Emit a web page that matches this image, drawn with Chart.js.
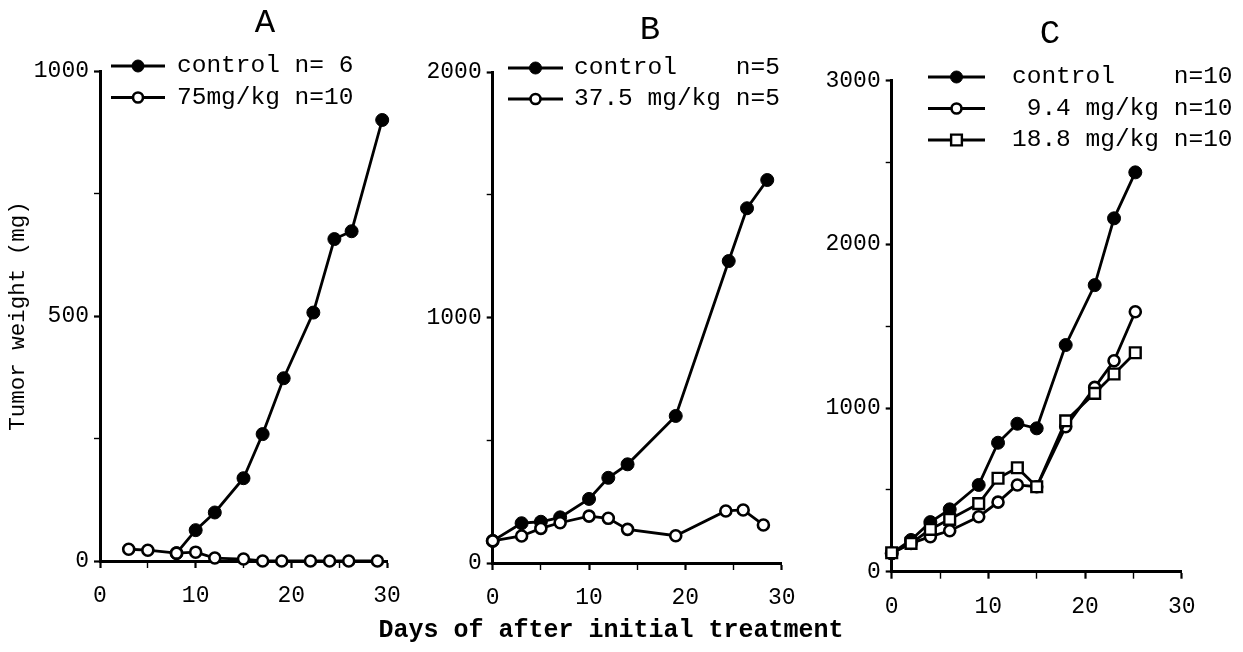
<!DOCTYPE html>
<html><head><meta charset="utf-8">
<script src="https://cdn.jsdelivr.net/npm/chart.js@4"></script>
<style>
html,body{margin:0;padding:0;background:#fff;width:1243px;height:652px;overflow:hidden;position:relative;font-family:'Liberation Mono','DejaVu Sans Mono',monospace;color:#000}
canvas{position:absolute;top:0}
.t{position:absolute;transform:translate(-50%,-50%);white-space:pre;line-height:1}
</style></head><body>
<canvas id="cA" width="415" height="620" style="left:0px"></canvas>
<canvas id="cB" width="400" height="620" style="left:415px"></canvas>
<canvas id="cC" width="428" height="620" style="left:815px"></canvas>
<div class="t" style="left:265px;top:23px;font-size:34px">A</div>
<div class="t" style="left:650px;top:30px;font-size:34px">B</div>
<div class="t" style="left:1050px;top:34px;font-size:34px">C</div>
<div class="t" style="left:611px;top:630px;font-size:25px;font-weight:bold">Days of after initial treatment</div>
<script>
// ---- data ----
const A_ctrl_day = [8, 10, 12, 15, 17, 19.2, 22.3, 24.5, 26.3, 29.5];
const A_ctrl_wt  = [16, 63, 99, 169, 259, 373, 507, 657, 673, 900];
const A_75_day   = [3, 5, 8, 10, 12, 15, 17, 19, 22, 24, 26, 29];
const A_75_wt    = [24, 22, 16, 18, 6, 4, 0, 0, 0, 0, 0, 0];

const B_ctrl_day = [0, 3, 5, 7, 10, 12, 14, 19, 24.5, 26.4, 28.5];
const B_ctrl_wt  = [90, 162, 168, 186, 261, 347, 402, 599, 1230, 1445, 1560];
const B_375_day  = [0, 3, 5, 7, 10, 12, 14, 19, 24.2, 26, 28.1];
const B_375_wt   = [90, 110, 141, 164, 191, 182, 137, 111, 212, 216, 155];

const C_day      = [0, 2, 4, 6, 9, 11, 13, 15, 18, 21, 23, 25.2];
const C_ctrl_wt  = [112, 194, 303, 381, 530, 788, 904, 876, 1385, 1751, 2159, 2440];
const C_94_wt    = [112, 173, 214, 250, 336, 425, 530, 519, 886, 1126, 1289, 1588];
const C_188_wt   = [116, 173, 259, 320, 416, 571, 635, 519, 922, 1090, 1208, 1338];

const A_labels = ['control n= 6', '75mg/kg n=10'];
const B_labels = ['control    n=5', '37.5 mg/kg n=5'];
const C_labels = ['control    n=10', ' 9.4 mg/kg n=10', '18.8 mg/kg n=10'];

const X_tick_labels = [0, 10, 20, 30];
const A_y_tick_labels = [0, 500, 1000];
const B_y_tick_labels = [0, 1000, 2000];
const C_y_tick_labels = [0, 1000, 2000, 3000];

// ---- helpers ----
const FAM = "'Liberation Mono', 'DejaVu Sans Mono', monospace";
const pts = (xs, ys) => xs.map((x, i) => ({x: x, y: ys[i]}));

function ds(label, data, kind, order) {
  const base = {label, data, borderColor: '#000', borderWidth: 2.8, tension: 0,
    pointBorderColor: '#000', clip: false, order};
  if (kind === 'filled') Object.assign(base, {pointStyle: 'circle', pointRadius: 6.5, pointHoverRadius: 6.5,
    pointBackgroundColor: '#000', pointBorderWidth: 1, legendR: 6});
  if (kind === 'open') Object.assign(base, {pointStyle: 'circle', pointRadius: 5.5, pointHoverRadius: 5.5,
    pointBackgroundColor: '#fff', pointBorderWidth: 2.6, legendR: 5});
  if (kind === 'square') Object.assign(base, {pointStyle: 'rect', pointRadius: 7.6, pointHoverRadius: 7.6,
    pointBackgroundColor: '#fff', pointBorderWidth: 2.4, legendR: 7.6});
  return base;
}

function yScale(max, step, labels, width, title) {
  return {
    type: 'linear', position: 'left', min: 0, max: max,
    ticks: {stepSize: step, autoSkip: false, color: '#000', padding: 5,
      font: {family: FAM, size: 23},
      callback: v => labels.includes(v) ? String(v) : ''},
    grid: {display: true, drawOnChartArea: false, drawTicks: true, tickLength: 6, tickColor: '#000',
      tickWidth: c => (c.tick && labels.includes(c.tick.value)) ? 2.2 : 1.4},
    border: {display: true, color: '#000', width: 3},
    title: title ? {display: true, text: title, color: '#000', font: {family: FAM, size: 22.5},
      padding: {top: 5, bottom: 0}} : {display: false},
    afterFit: s => { s.width = width; }
  };
}
function xScale(height) {
  return {
    type: 'linear', position: 'bottom', min: 0, max: 30,
    ticks: {stepSize: 5, autoSkip: false, maxRotation: 0, color: '#000', padding: 14,
      font: {family: FAM, size: 23},
      callback: v => X_tick_labels.includes(v) ? String(v) : ''},
    grid: {display: true, drawOnChartArea: false, drawTicks: true, tickLength: 7, tickColor: '#000',
      tickWidth: c => (c.tick && X_tick_labels.includes(c.tick.value)) ? 2.2 : 1.4},
    border: {display: true, color: '#000', width: 3},
    afterFit: s => { s.height = height; }
  };
}

const markLegend = {
  id: 'markLegend',
  afterDraw(chart, args, o) {
    const ctx = chart.ctx;
    ctx.save();
    chart.data.datasets.forEach((d, i) => {
      const y = o.y + i * o.rowH;
      ctx.strokeStyle = '#000'; ctx.lineWidth = d.borderWidth;
      ctx.beginPath(); ctx.moveTo(o.x, y); ctx.lineTo(o.x + o.len, y); ctx.stroke();
      const cx = o.x + o.len / 2, r = d.legendR;
      ctx.fillStyle = d.pointBackgroundColor; ctx.lineWidth = d.pointBorderWidth;
      ctx.beginPath();
      if (d.pointStyle === 'rect') { const h = r * Math.SQRT1_2; ctx.rect(cx - h, y - h, 2 * h, 2 * h); }
      else ctx.arc(cx, y, r, 0, Math.PI * 2);
      ctx.fill(); ctx.stroke();
      ctx.fillStyle = '#000'; ctx.font = o.font; ctx.textBaseline = 'middle'; ctx.textAlign = 'left';
      ctx.fillText(d.label, o.textX, y);
    });
    ctx.restore();
  }
};

function make(id, datasets, y, pad, xh, legend) {
  return new Chart(document.getElementById(id), {
    type: 'line',
    data: {datasets},
    options: {
      responsive: false, animation: false, devicePixelRatio: 1,
      layout: {padding: pad},
      scales: {x: xScale(xh), y: y},
      plugins: {legend: {display: false}, tooltip: {enabled: false}, title: {display: false},
        markLegend: legend}
    },
    plugins: [markLegend]
  });
}

const LF = "24.5px " + FAM;

make('cA', [
  ds(A_labels[0], pts(A_ctrl_day, A_ctrl_wt), 'filled', 1),
  ds(A_labels[1], pts(A_75_day, A_75_wt), 'open', 0)
], yScale(1000, 250, A_y_tick_labels, 100, 'Tumor weight (mg)'),
  {top: 71, right: 28, left: 0, bottom: 9}, 50,
  {x: 111, len: 54, textX: 177, y: 66, rowH: 31.5, font: LF});

make('cB', [
  ds(B_labels[0], pts(B_ctrl_day, B_ctrl_wt), 'filled', 1),
  ds(B_labels[1], pts(B_375_day, B_375_wt), 'open', 0)
], yScale(2000, 500, B_y_tick_labels, 77.7),
  {top: 72, right: 33.3, left: 0, bottom: 7}, 50,
  {x: 93, len: 55, textX: 159, y: 68, rowH: 31, font: LF});

make('cC', [
  ds(C_labels[0], pts(C_day, C_ctrl_wt), 'filled', 2),
  ds(C_labels[1], pts(C_day, C_94_wt), 'open', 1),
  ds(C_labels[2], pts(C_day, C_188_wt), 'square', 0)
], yScale(3000, 500, C_y_tick_labels, 76.7),
  {top: 80.7, right: 61.3, left: 0, bottom: 0}, 48.3,
  {x: 113, len: 57, textX: 197, y: 77, rowH: 31.5, font: LF});
</script>
</body></html>
